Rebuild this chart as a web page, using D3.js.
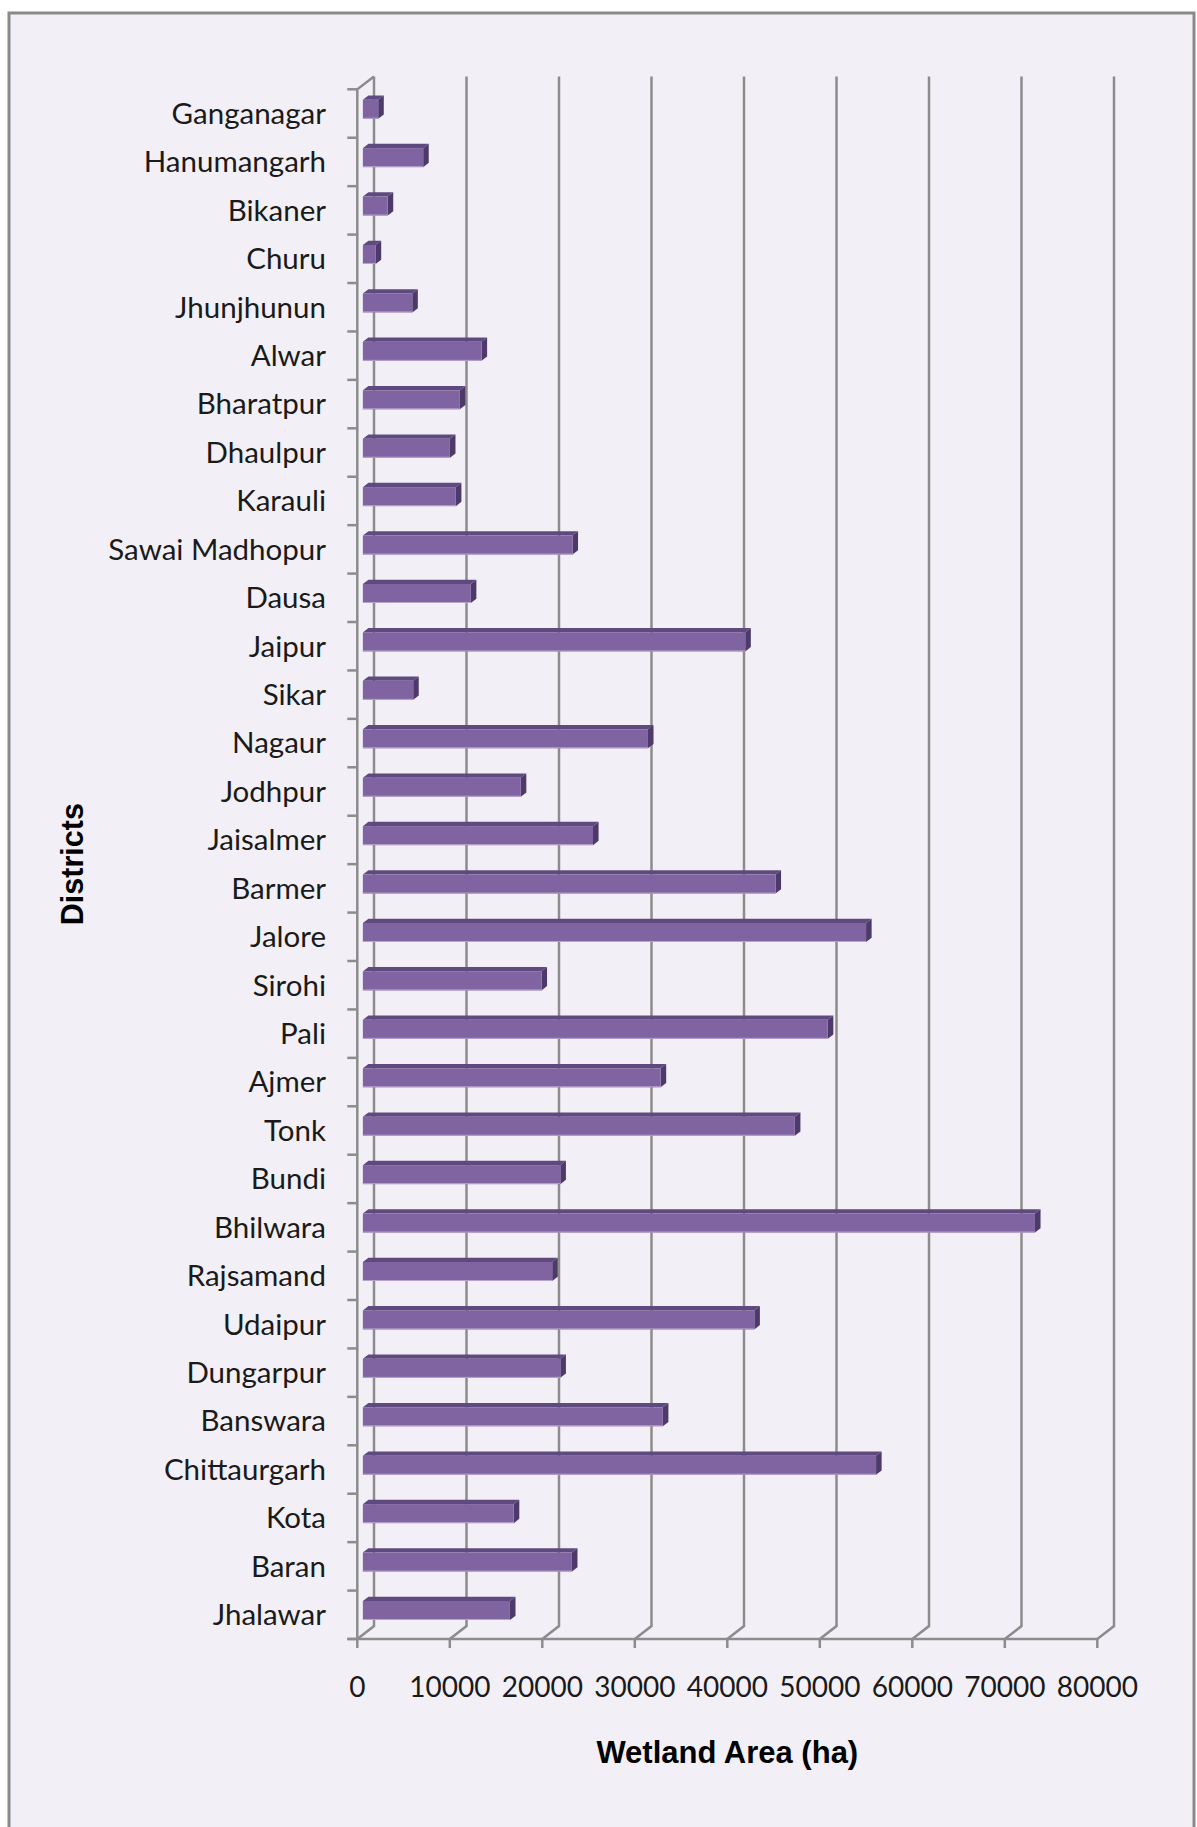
<!DOCTYPE html>
<html>
<head>
<meta charset="utf-8">
<script src="https://cdn.jsdelivr.net/npm/d3@7"></script>
<style>
  body { margin: 0; background: #ffffff; }
  svg { display: block; }
</style>
</head>
<body>
<svg class="chart_svg"></svg>
<script>
// districts, top to bottom
const districts = ["Ganganagar", "Hanumangarh", "Bikaner", "Churu", "Jhunjhunun", "Alwar", "Bharatpur",
  "Dhaulpur", "Karauli", "Sawai Madhopur", "Dausa", "Jaipur", "Sikar", "Nagaur", "Jodhpur", "Jaisalmer",
  "Barmer", "Jalore", "Sirohi", "Pali", "Ajmer", "Tonk", "Bundi", "Bhilwara", "Rajsamand", "Udaipur",
  "Dungarpur", "Banswara", "Chittaurgarh", "Kota", "Baran", "Jhalawar"];

// wetland area (ha)
const wetlandArea = [1660, 6520, 2680, 1380, 5340, 12830, 10490,
  9410, 10050, 22660, 11670, 41340, 5440, 30820, 17070, 24880,
  44610, 54400, 19310, 50260, 32190, 46700, 21350, 72660, 20470, 42320,
  21350, 32430, 55480, 16310, 22600, 15900];

const xTicks = [0, 10000, 20000, 30000, 40000, 50000, 60000, 70000, 80000];
const xTitle = "Wetland Area (ha)";
const yTitle = "Districts";

let data = districts.map((d, i) => ({district: d, area: wetlandArea[i]}));

let W = 1197, H = 1827;
let svg = d3.select(".chart_svg").attr("width", W).attr("height", H);

// chart area frame
svg.append("rect")
  .attr("x", 9).attr("y", 13)
  .attr("width", 1185).attr("height", 1900)
  .attr("fill", "#f2f0f6")
  .attr("stroke", "#8a8a8a").attr("stroke-width", 3);

// front plane scales, depth offset for 3D look
const x_scale = d3.scaleLinear().domain([0, 80000]).range([357.3, 1097.3]);
const y_scale = d3.scaleBand().domain(districts).range([89.3, 1639]).padding(0);
const depthX = 16.7, depthY = -12.9;
const barDX = depthX / 3, barDY = depthY / 3;
const barH = 19;

const yTop = y_scale.range()[0], yBot = y_scale.range()[1];
const gray = "#8c8c8c";

// back wall gridlines with the floor diagonal
svg.selectAll(".grid")
  .data(xTicks)
  .join("path")
  .attr("class", "grid")
  .attr("d", d => `M${x_scale(d) + depthX},${yTop + depthY} L${x_scale(d) + depthX},${yBot + depthY} L${x_scale(d)},${yBot}`)
  .attr("fill", "none")
  .attr("stroke", gray)
  .attr("stroke-width", 2.5);

// left wall: front edge + top diagonal
svg.append("path")
  .attr("d", `M${x_scale(0) + depthX},${yTop + depthY} L${x_scale(0)},${yTop} L${x_scale(0)},${yBot}`)
  .attr("fill", "none").attr("stroke", gray).attr("stroke-width", 2.5);

// category ticks
svg.selectAll(".ytick")
  .data(d3.range(districts.length + 1))
  .join("line")
  .attr("class", "ytick")
  .attr("x1", x_scale(0) - 10).attr("x2", x_scale(0))
  .attr("y1", i => yTop + i * y_scale.bandwidth())
  .attr("y2", i => yTop + i * y_scale.bandwidth())
  .attr("stroke", gray).attr("stroke-width", 2.5);

// bottom axis
svg.append("line")
  .attr("x1", x_scale(0) - 10).attr("x2", x_scale(80000))
  .attr("y1", yBot).attr("y2", yBot)
  .attr("stroke", gray).attr("stroke-width", 2.5);

svg.selectAll(".xtick")
  .data(xTicks)
  .join("line")
  .attr("class", "xtick")
  .attr("x1", d => x_scale(d)).attr("x2", d => x_scale(d))
  .attr("y1", yBot).attr("y2", yBot + 9)
  .attr("stroke", gray).attr("stroke-width", 2.5);

svg.selectAll(".xlabel")
  .data(xTicks)
  .join("text")
  .attr("class", "xlabel")
  .attr("x", d => x_scale(d))
  .attr("y", 1687)
  .attr("dy", "0.35em")
  .attr("text-anchor", "middle")
  .style("font-family", "Lato, 'Open Sans', sans-serif")
  .style("font-size", "28px")
  .style("fill", "#1a1a1a")
  .text(d => d);

// category labels
svg.selectAll(".ylabel")
  .data(data)
  .join("text")
  .attr("class", "ylabel")
  .attr("x", 326)
  .attr("y", d => y_scale(d.district) + y_scale.bandwidth() / 2)
  .attr("dy", "0.35em")
  .attr("text-anchor", "end")
  .style("font-family", "Lato, 'Open Sans', sans-serif")
  .style("font-size", "29.5px")
  .style("fill", "#1a1a1a")
  .text(d => d.district);

// 3D bars
let bars = svg.selectAll(".bar")
  .data(data)
  .join("g")
  .attr("class", "bar");

const bx0 = d => x_scale(0) + barDX;
const bx1 = d => x_scale(d.area) + barDX;
const by0 = d => y_scale(d.district) + y_scale.bandwidth() / 2 + barDY - barH / 2;

// top face
bars.append("path")
  .attr("d", d => `M${bx0(d)},${by0(d)} L${bx1(d)},${by0(d)} L${bx1(d) + barDX},${by0(d) + barDY} L${bx0(d) + barDX},${by0(d) + barDY} Z`)
  .attr("fill", "#5f4a80");

// side face
bars.append("path")
  .attr("d", d => `M${bx1(d)},${by0(d)} L${bx1(d) + barDX},${by0(d) + barDY} L${bx1(d) + barDX},${by0(d) + barDY + barH} L${bx1(d)},${by0(d) + barH} Z`)
  .attr("fill", "#4d3a6a");

// front face
bars.append("rect")
  .attr("x", bx0)
  .attr("y", by0)
  .attr("width", d => bx1(d) - bx0(d))
  .attr("height", barH)
  .attr("fill", "#8064a2");

bars.append("line")
  .attr("x1", bx0).attr("x2", bx1)
  .attr("y1", d => by0(d) + barH - 0.5).attr("y2", d => by0(d) + barH - 0.5)
  .attr("stroke", "#b6a5cf").attr("stroke-width", 1);

// axis titles
svg.append("text")
  .attr("x", (x_scale(0) + x_scale(80000)) / 2)
  .attr("y", 1752)
  .attr("dy", "0.35em")
  .attr("text-anchor", "middle")
  .style("font-family", "'Liberation Sans', Arial, sans-serif")
  .style("font-weight", "bold")
  .style("font-size", "31px")
  .style("fill", "#000")
  .text(xTitle);

svg.append("text")
  .attr("transform", `translate(72, ${(yTop + yBot) / 2}) rotate(-90)`)
  .attr("dy", "0.35em")
  .attr("text-anchor", "middle")
  .style("font-family", "'Liberation Sans', Arial, sans-serif")
  .style("font-weight", "bold")
  .style("font-size", "30.5px")
  .style("fill", "#000")
  .text(yTitle);
</script>
</body>
</html>
